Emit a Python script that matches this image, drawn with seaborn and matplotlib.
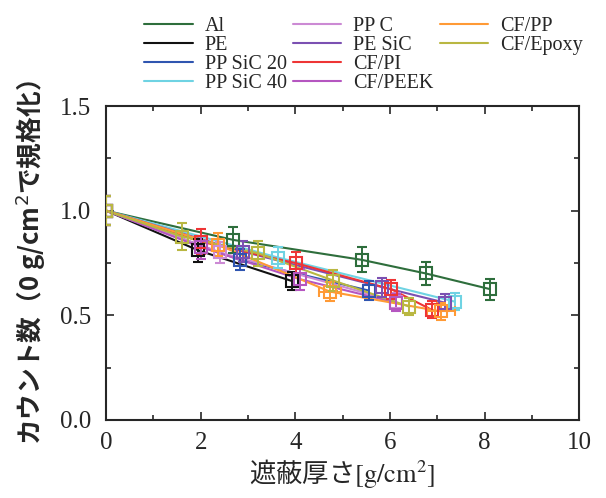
"""
遮蔽厚さとカウント数 (0 g/cm2で規格化) の比較
"""

import numpy as np
import pandas as pd
import matplotlib
matplotlib.use("Agg")
import matplotlib.pyplot as plt
from matplotlib.lines import Line2D
from matplotlib.ticker import MultipleLocator, FormatStrFormatter
import seaborn as sns

sns.set_style("ticks")
plt.rcParams["font.family"] = ["Liberation Serif", "Noto Sans CJK JP"]

# materials in legend order
materials = ["Al", "PE", "PP SiC 20", "PP SiC 40", "PP C", "PE SiC",
             "CF/PI", "CF/PEEK", "CF/PP", "CF/Epoxy"]
colors = ["#2e6e3c", "#111111", "#2f55b0", "#6fd3e3", "#cc8ad4", "#7b50b2",
          "#ee3535", "#b556c0", "#ff9a35", "#b9b742"]

# shielding thickness [g/cm2]
thick = {
    "Al":        [0, 2.69, 5.40, 6.75, 8.11],
    "PE":        [0, 1.95, 3.92],
    "PP SiC 20": [0, 2.82, 5.55],
    "PP SiC 40": [0, 3.63, 7.37],
    "PP C":      [0, 2.41, 6.13],
    "PE SiC":    [0, 2.90, 5.84, 7.16],
    "CF/PI":     [0, 2.00, 4.01, 6.03, 6.88],
    "CF/PEEK":   [0, 2.00, 4.10, 6.13],
    "CF/PP":     [0, 2.37, 4.73, 7.08],
    "CF/Epoxy":  [0, 1.61, 3.22, 4.80, 6.41],
}
# normalized counts
counts = {
    "Al":        [1.0, 0.86, 0.765, 0.70, 0.625],
    "PE":        [1.0, 0.81, 0.664],
    "PP SiC 20": [1.0, 0.765, 0.618],
    "PP SiC 40": [1.0, 0.776, 0.565],
    "PP C":      [1.0, 0.80, 0.565],
    "PE SiC":    [1.0, 0.804, 0.634, 0.56],
    "CF/PI":     [1.0, 0.852, 0.749, 0.624, 0.526],
    "CF/PEEK":   [1.0, 0.826, 0.672, 0.56],
    "CF/PP":     [1.0, 0.836, 0.613, 0.518],
    "CF/Epoxy":  [1.0, 0.876, 0.796, 0.666, 0.541],
}
count_err = {
    "Al":        [0.07, 0.064, 0.06, 0.055, 0.05],
    "PE":        [0.07, 0.055, 0.045],
    "PP SiC 20": [0.07, 0.05, 0.045],
    "PP SiC 40": [0.07, 0.05, 0.04],
    "PP C":      [0.07, 0.05, 0.04],
    "PE SiC":    [0.07, 0.05, 0.045, 0.04],
    "CF/PI":     [0.07, 0.06, 0.055, 0.045, 0.04],
    "CF/PEEK":   [0.07, 0.055, 0.05, 0.04],
    "CF/PP":     [0.07, 0.055, 0.045, 0.04],
    "CF/Epoxy":  [0.07, 0.065, 0.06, 0.05, 0.04],
}
thick_err = {
    "CF/PP": [0, 0, 0.24, 0.3],
}

rows = []
for m in materials:
    for x, y in zip(thick[m], counts[m]):
        rows.append({"material": m, "thickness": x, "count": y})
df = pd.DataFrame(rows)

fig = plt.figure(figsize=(6.06, 4.98), dpi=100)
ax = fig.add_axes([0.175, 0.157, 0.781, 0.630])

sns.lineplot(data=df, x="thickness", y="count", hue="material",
             hue_order=materials, palette=colors, estimator=None,
             linewidth=1.5, ax=ax, legend=True)

for m, c in zip(materials, colors):
    ax.errorbar(thick[m], counts[m], yerr=count_err[m], xerr=thick_err.get(m),
                fmt="s", ms=8.5, mfc="none", mec=c, mew=1.5, ecolor=c,
                elinewidth=1.4, capsize=3.5, capthick=1.4, zorder=3)

ax.set_xlim(0, 10)
ax.set_ylim(0, 1.5)
ax.xaxis.set_major_locator(MultipleLocator(2))
ax.xaxis.set_minor_locator(MultipleLocator(1))
ax.yaxis.set_major_locator(MultipleLocator(0.5))
ax.yaxis.set_minor_locator(MultipleLocator(0.25))
ax.yaxis.set_major_formatter(FormatStrFormatter("%.1f"))
ax.tick_params(which="both", direction="in", top=True, right=True,
               width=1.2, labelsize=18)
ax.tick_params(axis="x", pad=9)
ax.tick_params(axis="y", pad=11)
ax.tick_params(which="major", length=6)
ax.tick_params(which="minor", length=3.5)
for s in ax.spines.values():
    s.set_linewidth(1.5)

ax.set_xlabel(r"遮蔽厚さ$\mathrm{[g/cm^2]}$", fontsize=19, labelpad=2,
              family=["Noto Sans CJK JP"], math_fontfamily="stix")
ax.set_ylabel("カウント数（0 g/cm$^2$で規格化）", fontsize=18.5,
              family=["Noto Sans CJK JP"], math_fontfamily="dejavusans",
              fontweight="bold", labelpad=8)

# column-wise legend: 4 + 4 + 2 entries
handles, labels = ax.get_legend_handles_labels()
ax.get_legend().remove()
blank = Line2D([], [], color="none")
handles = handles + [blank, blank]
labels = labels + ["", ""]
fig.legend(handles, labels, loc="upper left", bbox_to_anchor=(0.215, 0.995),
           ncol=3, frameon=False, fontsize=14.5, handlelength=2.4,
           handletextpad=0.6, columnspacing=0.3, labelspacing=0.0,
           borderpad=0.2)

fig.savefig("out.png", dpi=100)
